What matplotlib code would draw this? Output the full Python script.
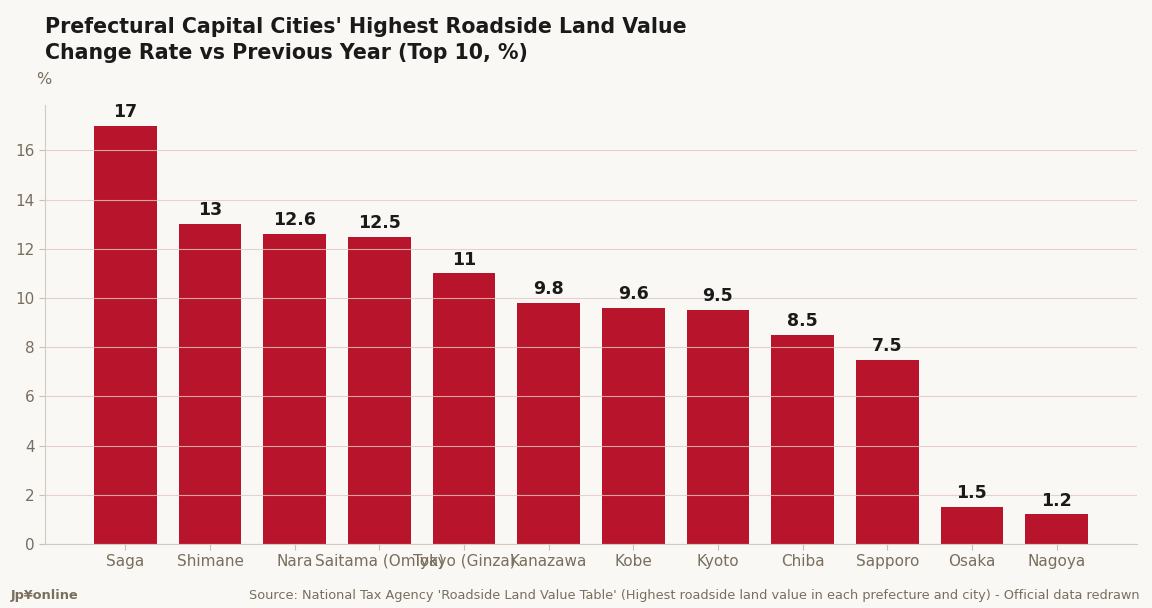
import matplotlib
matplotlib.use("Agg")
import matplotlib.pyplot as plt

plt.rcParams["font.family"] = ["DejaVu Sans"]

cities = ["Saga", "Shimane", "Nara", "Saitama (Omiya)", "Tokyo (Ginza)",
          "Kanazawa", "Kobe", "Kyoto", "Chiba", "Sapporo", "Osaka", "Nagoya"]
rates = [17, 13, 12.6, 12.5, 11, 9.8, 9.6, 9.5, 8.5, 7.5, 1.5, 1.2]
labels = ["17", "13", "12.6", "12.5", "11", "9.8", "9.6", "9.5", "8.5", "7.5", "1.5", "1.2"]

bg = "#faf8f5"
bar_color = "#b8142b"
text_dark = "#1a1a1a"
text_muted = "#7a6e5d"

fig = plt.figure(figsize=(11.52, 6.08), dpi=100, facecolor=bg)
ax = fig.add_axes([45 / 1152, 1 - 544 / 608, (1137 - 45) / 1152, (544 - 105) / 608])
ax.set_facecolor(bg)

x = range(len(cities))
ax.bar(x, rates, width=0.74, color=bar_color, zorder=1)
for xi, v, lab in zip(x, rates, labels):
    ax.text(xi, v + 0.2, lab, ha="center", va="bottom", fontsize=12.5,
            fontweight="bold", color=text_dark)

ax.set_xlim(-0.95, 11.95)
ax.set_ylim(0, 17.85)
ax.set_xticks(list(x))
ax.set_xticklabels(cities, fontsize=11, color=text_muted)
ax.set_yticks(range(0, 17, 2))
ax.tick_params(axis="y", labelsize=11, labelcolor=text_muted, color="#c8c0b5", length=4)
ax.tick_params(axis="x", color="#c8c0b5", length=4, pad=3)
ax.yaxis.grid(True, color="#e2c9c4", alpha=0.8, linewidth=0.8)
for s in ["top", "right"]:
    ax.spines[s].set_visible(False)
for s in ["left", "bottom"]:
    ax.spines[s].set_color("#d3cbc0")

fig.text(45 / 1152, 1 - 40 / 608,
         "Prefectural Capital Cities' Highest Roadside Land Value\nChange Rate vs Previous Year (Top 10, %)",
         fontsize=14.8, fontweight="bold", color=text_dark, va="center", ha="left",
         linespacing=1.4)
fig.text(36 / 1152, 1 - 80 / 608, "%", fontsize=11.5, color=text_muted, va="center", ha="left")
fig.text(11 / 1152, 1 - 595 / 608, "Jp¥online", fontsize=9.3, fontweight="bold",
         color=text_muted, va="center", ha="left")
fig.text(1140 / 1152, 1 - 595 / 608,
         "Source: National Tax Agency 'Roadside Land Value Table' (Highest roadside land value in each prefecture and city) - Official data redrawn",
         fontsize=9.3, color=text_muted, va="center", ha="right")

fig.savefig("out.png", dpi=100, facecolor=bg)
